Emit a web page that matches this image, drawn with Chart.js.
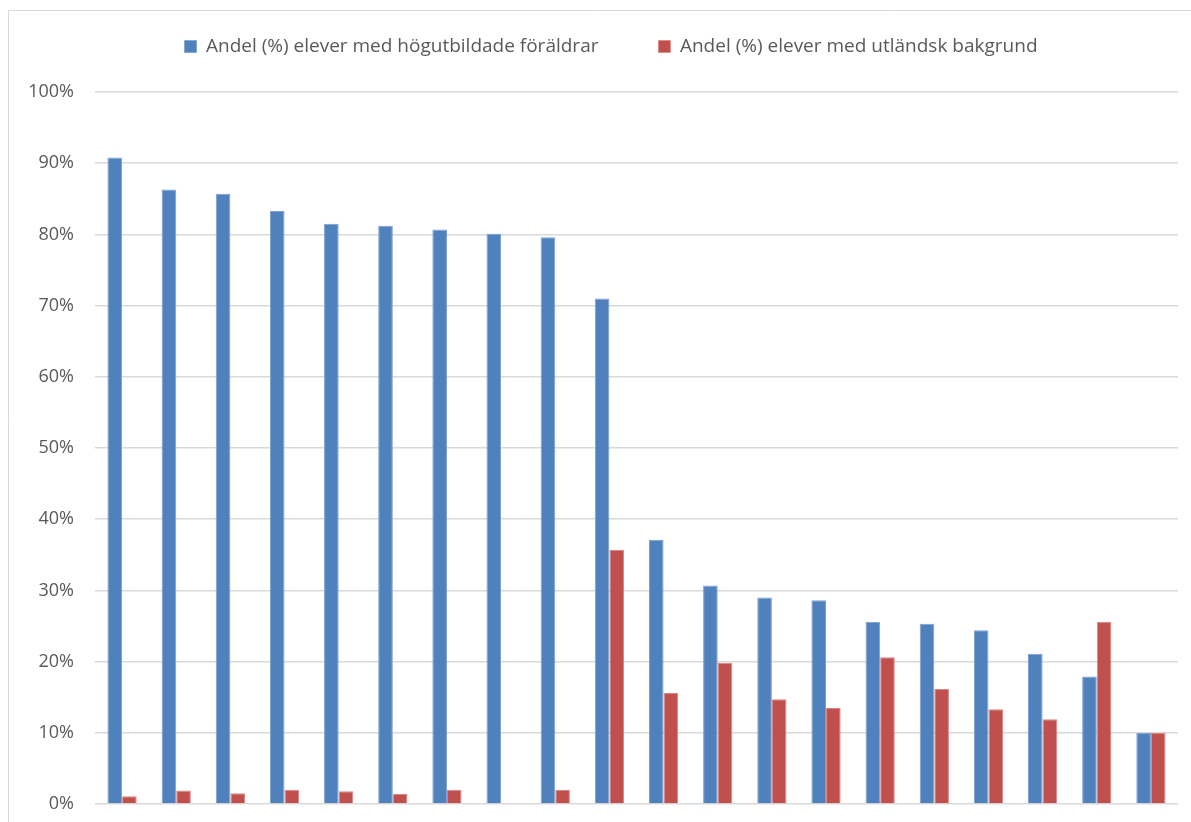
<!DOCTYPE html>
<html>
<head>
<meta charset="utf-8">
<script src="https://cdn.jsdelivr.net/npm/chart.js@4.4.0/dist/chart.umd.min.js"></script>
<style>
html,body{margin:0;padding:0;background:#fff;}
#wrap{position:relative;width:1191px;height:822px;}
</style>
</head>
<body>
<div id="wrap"><canvas id="c" width="1191" height="822"></canvas></div>
<script>
const categories = ["1","2","3","4","5","6","7","8","9","10","11","12","13","14","15","16","17","18","19","20"];
const seriesNames = ["Andel (%) elever med högutbildade föräldrar", "Andel (%) elever med utländsk bakgrund"];
const highEducated = [90.8, 86.3, 85.7, 83.3, 81.5, 81.2, 80.7, 80.1, 79.6, 71.0, 37.1, 30.7, 29.0, 28.6, 25.6, 25.3, 24.4, 21.1, 17.9, 10.0];
const foreignBackground = [1.1, 1.9, 1.5, 2.0, 1.8, 1.4, 2.0, 0, 1.95, 35.7, 15.6, 19.85, 14.7, 13.5, 20.6, 16.15, 13.3, 11.9, 25.6, 10.0];
const yTicks = [0, 10, 20, 30, 40, 50, 60, 70, 80, 90, 100];

const FONT = 'Open Sans';

const frame = {
  id: 'frame',
  beforeDraw(chart) {
    const ctx = chart.ctx;
    ctx.save();
    ctx.fillStyle = '#fff';
    ctx.fillRect(0, 0, chart.width, chart.height);
    ctx.strokeStyle = '#d9d9d9';
    ctx.lineWidth = 1;
    ctx.beginPath();
    ctx.moveTo(8.5, chart.height);
    ctx.lineTo(8.5, 10.5);
    ctx.lineTo(chart.width, 10.5);
    ctx.stroke();
    ctx.restore();
  }
};

const legendPlace = {
  id: 'legendPlace',
  beforeInit(chart) {
    const orig = chart.legend.fit;
    chart.legend.fit = function () {
      orig.bind(chart.legend)();
      this.height = 92;
    };
  },
  afterLayout(chart) {
    const lg = chart.legend;
    lg.top -= 23;
    lg.left += 22;
    lg.right += 22;
  }
};

new Chart(document.getElementById('c'), {
  type: 'bar',
  data: {
    labels: categories,
    datasets: [
      { label: seriesNames[0], data: highEducated, backgroundColor: '#4f81bd', borderColor: '#7b9fd0', borderWidth: {top:1,left:1,right:1,bottom:0} },
      { label: seriesNames[1], data: foreignBackground, backgroundColor: '#c0504d', borderColor: '#d98583', borderWidth: {top:1,left:1,right:1,bottom:0} }
    ]
  },
  plugins: [frame, legendPlace],
  options: {
    responsive: false,
    animation: false,
    layout: { padding: { top: 0, right: 13, bottom: 18, left: 0 } },
    datasets: { bar: { categoryPercentage: 0.54, barPercentage: 1 } },
    plugins: {
      legend: {
        position: 'top',
        labels: {
          boxWidth: 12, boxHeight: 12,
          padding: 60,
          color: '#595959',
          font: { family: FONT, size: 19 }
        }
      },
      tooltip: { enabled: false }
    },
    scales: {
      x: {
        display: false
      },
      y: {
        min: 0, max: 100,
        afterBuildTicks(axis) { axis.ticks = yTicks.map(v => ({ value: v })); },
        afterFit(axis) { axis.width = 95; axis.paddingTop = 0; axis.paddingBottom = 0; },
        ticks: {
          padding: 21,
          color: '#595959',
          font: { family: FONT, size: 18 },
          callback: v => v + '%'
        },
        grid: { color: '#d9d9d9', lineWidth: 1.5, drawTicks: false },
        border: { display: false }
      }
    }
  }
});
</script>
</body>
</html>
